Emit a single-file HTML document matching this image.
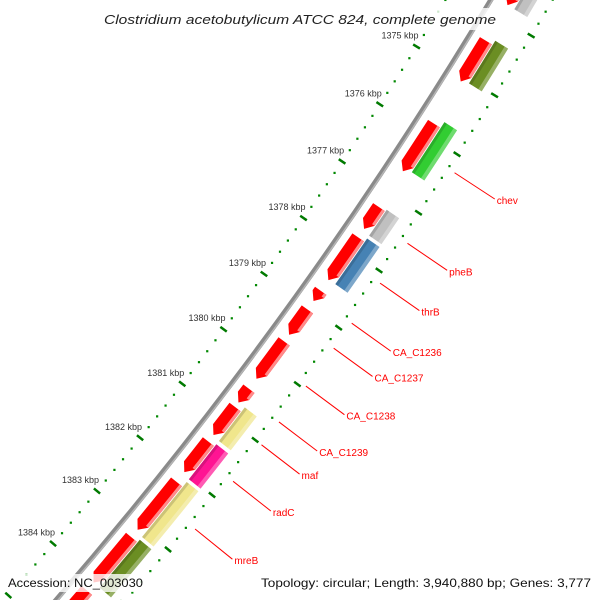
<!DOCTYPE html>
<html><head><meta charset="utf-8"><style>
html,body{margin:0;padding:0;background:#fff;width:600px;height:600px;overflow:hidden;}
svg{display:block;font-family:"Liberation Sans",sans-serif;}
</style></head><body>
<svg id="chart" width="600" height="600" viewBox="0 0 600 600" xmlns="http://www.w3.org/2000/svg" style="overflow:hidden">
<g id="rings"></g>
<g id="labels"></g>
<rect x="100" y="8" width="400" height="22" fill="#fff" opacity="0.8"/>
<text x="300" y="24" text-anchor="middle" font-size="13" font-style="italic" fill="#222" textLength="392" lengthAdjust="spacingAndGlyphs">Clostridium acetobutylicum ATCC 824, complete genome</text>
<rect x="4" y="574" width="592" height="18" fill="#fff" opacity="0.8"/>
<text x="8" y="587" font-size="12" fill="#111" textLength="135" lengthAdjust="spacingAndGlyphs">Accession: NC_003030</text>
<text x="591" y="587" font-size="12" fill="#111" text-anchor="end" textLength="330" lengthAdjust="spacingAndGlyphs">Topology: circular; Length: 3,940,880 bp; Genes: 3,777</text>
</svg>
<script>
// ---- data ----
const geneStarts = [1372.8,1374.40,1375.81,1377.25,1377.78,1378.72,1379.05,1379.62,1380.47,1380.80,1381.43,1382.17,1383.20,1384.2];
const geneEnds   = [1373.80,1375.09,1376.63,1377.63,1378.53,1378.90,1379.50,1380.29,1380.72,1381.31,1381.99,1383.06,1384.05,1385.2];
const cogStarts = [1372.8,1374.33,1375.71,1377.22,1377.72,1380.72,1381.39,1382.08,1383.15];
const cogEnds   = [1373.8,1375.05,1376.57,1377.67,1378.52,1381.33,1382.03,1383.10,1384.05];
const cogColors = ["#c0c0c0","#6b8e23","#32cd32","#c0c0c0","#4682b4","#f0e68c","#ff1493","#f0e68c","#6b8e23"];
const labelNames = ["chev","pheB","thrB","CA_C1236","CA_C1237","CA_C1238","CA_C1239","maf","radC","mreB"];
const labelKbp = [1376.24,1377.45,1378.14,1378.84,1379.28,1379.95,1380.59,1381.0,1381.66,1382.53];
const tickKbp = [1372,1373,1374,1375,1376,1377,1378,1379,1380,1381,1382,1383,1384,1385,1386];
const tickLabels = ["1372 kbp","1373 kbp","1374 kbp","1375 kbp","1376 kbp","1377 kbp","1378 kbp","1379 kbp","1380 kbp","1381 kbp","1382 kbp","1383 kbp","1384 kbp","1385 kbp","1386 kbp"];

// ---- geometry ----
const CX=-3169, CY=-2194;
function ang(k){return (32.0+(k-1375)*0.928)*Math.PI/180;}
function P(k,r){const a=ang(k);return [CX+r*Math.cos(a),CY+r*Math.sin(a)];}
function f(p){return p[0].toFixed(2)+","+p[1].toFixed(2);}
function band(k1,k2,r1,r2){
  return "M"+f(P(k1,r1))+" A"+r1+","+r1+" 0 0 1 "+f(P(k2,r1))+" L"+f(P(k2,r2))+" A"+r2+","+r2+" 0 0 0 "+f(P(k1,r2))+"Z";
}
function arrow(k1,k2,r1,r2){
  const kh=Math.max(k1,k2-0.12);
  return "M"+f(P(k1,r1))+" A"+r1+","+r1+" 0 0 1 "+f(P(kh,r1))+" L"+f(P(k2,(r1+r2)/2))+" L"+f(P(kh,r2))+" A"+r2+","+r2+" 0 0 0 "+f(P(k1,r2))+"Z";
}
const NS="http://www.w3.org/2000/svg";
const rings=document.getElementById('rings');
const labels=document.getElementById('labels');
function mk(tag,attrs,parent){const e=document.createElementNS(NS,tag);for(const k in attrs)e.setAttribute(k,attrs[k]);parent.appendChild(e);return e;}

// ticks
const R_OUT=4228, R_IN=4320;
for(let i=0;i<tickKbp.length;i++){
  const k=tickKbp[i];
  [R_OUT,R_IN].forEach(function(r,j){
    const a=P(k,r-4), b=P(k,r+4);
    const t=mk('line',{x1:a[0],y1:a[1],x2:b[0],y2:b[1],stroke:'#007a00','stroke-width':2.5},rings);
    
    
  });
  const lp=P(k,R_OUT);
  if(lp[1]>10 && lp[1]<570){
    const tl=mk('text',{x:lp[0]+2,y:lp[1]-8,'text-anchor':'end','font-size':9,fill:'#333'},rings);
    tl.textContent=tickLabels[i];
    
    
  }
  if(i<tickKbp.length-1){
    for(let m=1;m<5;m++){
      const km=k+m*(tickKbp[i+1]-k)/5;
      [R_OUT,R_IN].forEach(function(r){
        const p=P(km,r);
        const d=mk('rect',{x:p[0]-1,y:p[1]-1,width:2.2,height:2.2,fill:'#008800'},rings);
        
        
      });
    }
  }
}

// backbone
const bb=mk('path',{d:"M"+f(P(1371,4267))+" A4267,4267 0 0 1 "+f(P(1387,4267)),fill:'none',stroke:'#8a8a8a','stroke-width':5},rings);


const bb2=mk('path',{d:"M"+f(P(1371,4268.5))+" A4268.5,4268.5 0 0 1 "+f(P(1387,4268.5)),fill:'none',stroke:'#b5b5b5','stroke-width':1.5},rings);



// genes (red, arrows)
for(let i=0;i<geneStarts.length;i++){
  const g=mk('path',{d:arrow(geneStarts[i],geneEnds[i],4277,4291),fill:'#ff0000'},rings);
  
  
  const kh=Math.max(geneStarts[i],geneEnds[i]-0.12);
  const h=mk('path',{d:band(geneStarts[i],kh,4288,4291),fill:'#ff8a8a'},rings);
  
  
}
// COG ring
for(let i=0;i<cogStarts.length;i++){
  const c=mk('path',{d:band(cogStarts[i],cogEnds[i],4292,4307),fill:cogColors[i]},rings);
  
  
  const h=mk('path',{d:band(cogStarts[i],cogEnds[i],4303,4307),fill:'#ffffff',opacity:0.3},rings);
  
  
  const s=mk('path',{d:band(cogStarts[i],cogEnds[i],4292,4295),fill:'#000',opacity:0.15},rings);
  
  
}
// labels
for(let i=0;i<labelNames.length;i++){
  const a=P(labelKbp[i],4328), b=P(labelKbp[i],4376);
  const l=mk('line',{x1:a[0],y1:a[1],x2:b[0],y2:b[1],stroke:'#ff0000','stroke-width':1},labels);
  
  
  const t=mk('text',{x:b[0]+2,y:b[1]+5,'font-size':10,fill:'#ff0000'},labels);
  t.textContent=labelNames[i];
  
  
}
</script>
</body></html>
